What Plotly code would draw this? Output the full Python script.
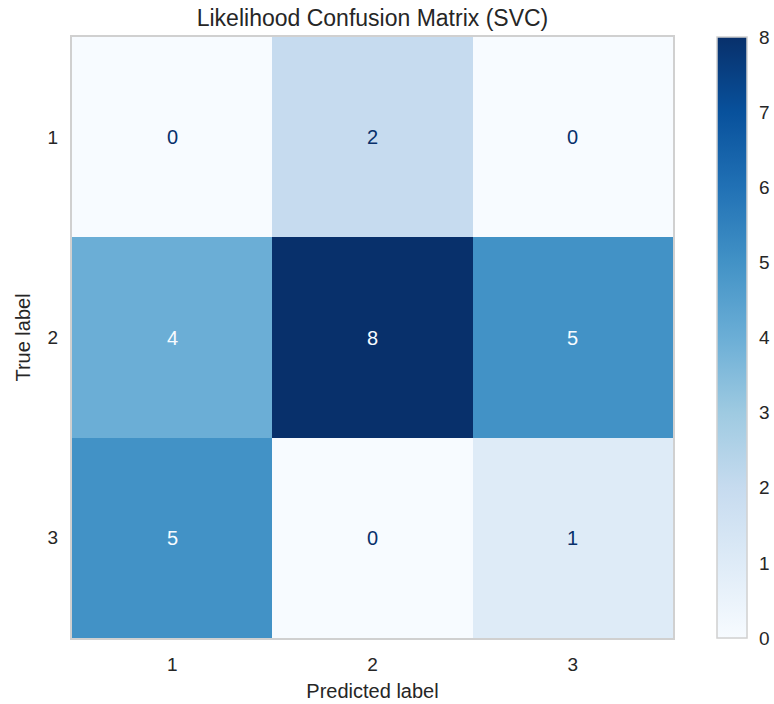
import plotly.graph_objects as go

# Confusion matrix counts (rows: true label, cols: predicted label)
labels = ["1", "2", "3"]
counts = [
    [0, 2, 0],
    [4, 8, 5],
    [5, 0, 1],
]
cbar_ticks = [0, 1, 2, 3, 4, 5, 6, 7, 8]

blues = [
    [0.0, "rgb(247,251,255)"], [0.125, "rgb(222,235,247)"], [0.25, "rgb(198,219,239)"],
    [0.375, "rgb(158,202,225)"], [0.5, "rgb(107,174,214)"], [0.625, "rgb(66,146,198)"],
    [0.75, "rgb(33,113,181)"], [0.875, "rgb(8,81,156)"], [1.0, "rgb(8,48,107)"],
]

zmin, zmax = 0, max(max(r) for r in counts)
thresh = (zmin + zmax) / 2

W, H = 774, 704
L, R, T, B = 72, 101, 37, 66
plot_w = W - L - R

fig = go.Figure(go.Heatmap(
    z=counts, x=[0, 1, 2], y=[0, 1, 2],
    colorscale=blues, zmin=zmin, zmax=zmax,
    xgap=0, ygap=0,
    colorbar=dict(
        x=(717 - L) / plot_w, xanchor="left", xpad=0, ypad=0,
        y=0.5, yanchor="middle", len=1, lenmode="fraction",
        thickness=30, outlinecolor="#d0d0d0", outlinewidth=1.5,
        tickvals=cbar_ticks, ticks="outside", ticklen=8, tickcolor="rgba(0,0,0,0)",
        tickfont=dict(size=19, color="#262626"),
    ),
))

for i, row in enumerate(counts):
    for j, v in enumerate(row):
        fig.add_annotation(
            x=j, y=i, text=str(v), showarrow=False,
            font=dict(size=20, color="#f7fbff" if v >= thresh else "#08306b"),
        )

axis_common = dict(
    showgrid=False, zeroline=False, ticks="", showline=True, mirror=True,
    linecolor="#d0d0d0", linewidth=2, automargin=False,
    tickfont=dict(size=19, color="#262626"),
    tickvals=[0, 1, 2], ticktext=labels,
)

fig.update_layout(
    width=W, height=H,
    margin=dict(l=L, r=R, t=T, b=B, autoexpand=False),
    paper_bgcolor="white", plot_bgcolor="white",
    font=dict(family="Liberation Sans, Arial, sans-serif", color="#262626"),
    title=dict(text="Likelihood Confusion Matrix (SVC)", x=(L + plot_w / 2) / W,
               xanchor="center", y=1 - 18 / H, yanchor="middle",
               font=dict(size=23, color="#262626")),
    xaxis=dict(axis_common, range=[-0.5, 2.5], ticklabelstandoff=8,
               title=dict(text="Predicted label", font=dict(size=20), standoff=10)),
    yaxis=dict(axis_common, range=[2.5, -0.5], ticklabelstandoff=8,
               title=dict(text="True label", font=dict(size=20), standoff=12)),
)

fig.write_html("out.html")
